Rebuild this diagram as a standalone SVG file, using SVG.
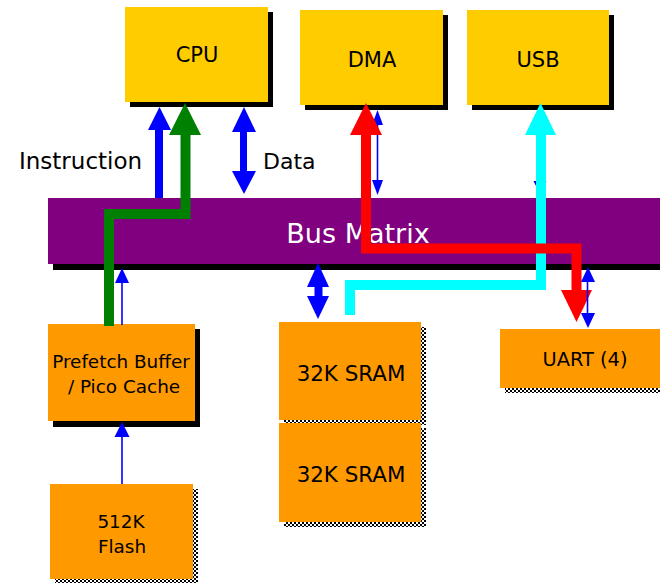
<svg xmlns="http://www.w3.org/2000/svg" width="660" height="584" viewBox="0 0 660 584">
<defs>
<pattern id="chk" width="4" height="4" patternUnits="userSpaceOnUse">
<rect width="4" height="4" fill="#fff"/>
<rect x="0" y="0" width="2" height="2" fill="#000"/>
<rect x="2" y="2" width="2" height="2" fill="#000"/>
</pattern>
</defs>
<style>
text{font-family:"DejaVu Sans","Verdana",sans-serif;fill:#000;text-anchor:middle}
.gold{fill:#FFCC00}
.orange{fill:#FF9900}
.sh{fill:#000}
.chk{fill:url(#chk)}
.blue{fill:#0000FF}
.bline{stroke:#0000FF;stroke-width:1.6;fill:none}
.wide{fill:none;stroke-width:10;stroke-linejoin:miter;stroke-linecap:butt}
</style>
<rect width="660" height="584" fill="#fff"/>

<g id="cpu">
<rect class="sh" x="130" y="12" width="143" height="95"/>
<rect class="gold" x="125" y="7" width="143" height="95"/>
<text x="197" y="62" font-size="21">CPU</text>
</g>
<g id="dma">
<rect class="sh" x="305" y="15" width="143" height="95"/>
<rect class="gold" x="300" y="10" width="143" height="95"/>
<text x="372" y="67" font-size="21">DMA</text>
</g>
<g id="usb">
<rect class="sh" x="472" y="15" width="142" height="95"/>
<rect class="gold" x="467" y="10" width="142" height="95"/>
<text x="538" y="67" font-size="21">USB</text>
</g>

<g id="bus-matrix">
<rect class="sh" x="53" y="203" width="607" height="67"/>
<rect x="48" y="198" width="612" height="66" fill="#800080"/>
<text x="358" y="243" font-size="27" style="fill:#fff">Bus Matrix</text>
</g>

<g id="prefetch">
<rect class="sh" x="53" y="329" width="147" height="98"/>
<rect class="orange" x="48" y="324" width="147" height="97"/>
<text x="121" y="368" font-size="18.4">Prefetch Buffer</text>
<text x="124" y="393" font-size="18.4">/ Pico Cache</text>
</g>
<g id="flash">
<rect class="chk" x="55" y="489" width="143" height="94"/>
<rect class="orange" x="50" y="484" width="143" height="95"/>
<text x="121" y="528" font-size="18.4">512K</text>
<text x="122" y="553" font-size="18.4">Flash</text>
</g>
<g id="sram1">
<rect class="chk" x="284" y="327" width="142" height="98"/>
<rect class="orange" x="279" y="322" width="142" height="98"/>
<text x="351" y="381" font-size="21.4">32K SRAM</text>
</g>
<g id="sram2">
<rect class="chk" x="284" y="428" width="142" height="99"/>
<rect class="orange" x="279" y="423" width="142" height="99"/>
<text x="351" y="482" font-size="21.4">32K SRAM</text>
</g>
<g id="uart">
<rect class="chk" x="505" y="334" width="155" height="59"/>
<rect class="orange" x="500" y="329" width="160" height="59"/>
<text x="585" y="366" font-size="19.4">UART (4)</text>
</g>

<g id="labels">
<text x="19" y="169" font-size="23" style="text-anchor:start">Instruction</text>
<text x="263" y="169" font-size="22" style="text-anchor:start">Data</text>
</g>

<g id="connectors">
<!-- instruction arrow -->
<rect class="blue" x="155" y="128" width="8" height="70"/>
<polygon class="blue" points="148,130 171,130 159.5,107"/>
<!-- data double arrow -->
<rect class="blue" x="240" y="130" width="7" height="42"/>
<polygon class="blue" points="232,132 256,132 244,107"/>
<polygon class="blue" points="232,171 256,171 244,194"/>
<!-- green path -->
<polyline class="wide" stroke="#008000" points="109,326 109,214 185.5,214 185.5,133"/>
<polygon fill="#008000" points="169,135 201,135 185,103"/>
<!-- prefetch to bus thin arrow -->
<line class="bline" x1="122" y1="281" x2="122" y2="325"/>
<polygon class="blue" points="115,283 129,283 122,268"/>
<!-- flash to prefetch -->
<line class="bline" x1="122" y1="435" x2="122" y2="484"/>
<polygon class="blue" points="114.5,437 129.5,437 122,422"/>
<!-- sram double arrow -->
<rect class="blue" x="314.5" y="285" width="8" height="13"/>
<polygon class="blue" points="307,287 329,287 318,263"/>
<polygon class="blue" points="307,296 329,296 318,319"/>
<!-- DMA thin double -->
<line class="bline" x1="377.5" y1="122" x2="377.5" y2="183"/>
<polygon class="blue" points="372,125 383,125 377.5,110"/>
<polygon class="blue" points="372,180 383,180 377.5,195"/>
<!-- USB thin double (mostly hidden) -->
<line class="bline" x1="540" y1="122" x2="540" y2="183"/>
<polygon class="blue" points="533.5,181 546.5,181 540,194"/>
<polygon class="blue" points="533.5,125 546.5,125 540,110"/>
<!-- cyan path -->
<polyline class="wide" stroke="#00FFFF" points="541,133 541,285 350,285 350,315"/>
<polygon fill="#00FFFF" points="525,135 556,135 540.5,103"/>
<!-- red path -->
<polyline class="wide" stroke="#FF0000" points="366,133 366,248.5 576.5,248.5 576.5,292"/>
<polygon fill="#FF0000" points="350,135 382,135 366,103"/>
<polygon fill="#FF0000" points="561,290 592,290 576.5,322"/>
<!-- UART thin double -->
<line class="bline" x1="587.5" y1="280" x2="587.5" y2="315"/>
<polygon class="blue" points="581,282 595,282 588,267"/>
<polygon class="blue" points="581,313 595,313 588,328"/>
</g>
</svg>
